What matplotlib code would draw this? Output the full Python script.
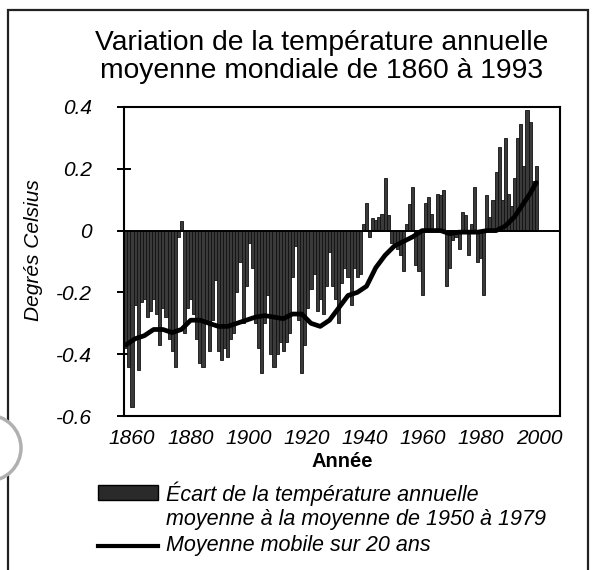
#!/usr/bin/env python3
"""Variation de la température annuelle moyenne mondiale, 1860-1993."""

import numpy as np
import matplotlib

matplotlib.use('Agg')
import matplotlib.pyplot as plt
from matplotlib.patches import Rectangle, Circle
from matplotlib.lines import Line2D

plt.rcParams['font.family'] = ['Liberation Sans', 'DejaVu Sans']

years = list(range(1860, 1994))
anomaly = [
    -0.38, -0.44, -0.57, -0.24, -0.45, -0.23, -0.22, -0.28, -0.26, -0.22,  # 1860s
    -0.27, -0.37, -0.25, -0.28, -0.35, -0.39, -0.44, -0.02, 0.03, -0.33,   # 1870s
    -0.25, -0.22, -0.27, -0.35, -0.43, -0.44, -0.30, -0.39, -0.29, -0.16,  # 1880s
    -0.39, -0.42, -0.38, -0.41, -0.35, -0.33, -0.20, -0.10, -0.30, -0.18,  # 1890s
    -0.04, -0.12, -0.30, -0.38, -0.46, -0.30, -0.21, -0.40, -0.44, -0.40,  # 1900s
    -0.36, -0.39, -0.36, -0.33, -0.15, -0.05, -0.29, -0.46, -0.37, -0.25,  # 1910s
    -0.19, -0.14, -0.26, -0.22, -0.27, -0.18, -0.07, -0.18, -0.22, -0.30,  # 1920s
    -0.17, -0.12, -0.15, -0.24, -0.12, -0.15, -0.14, 0.02, 0.09, -0.02,    # 1930s
    0.04, 0.035, 0.045, 0.055, 0.17, 0.05, -0.04, -0.05, -0.06, -0.08,     # 1940s
    -0.13, 0.02, 0.085, 0.14, -0.11, -0.13, -0.21, 0.09, 0.11, 0.055,      # 1950s
    0.0, 0.12, 0.115, 0.13, -0.18, -0.12, -0.03, -0.02, -0.06, 0.06,       # 1960s
    0.05, -0.08, 0.02, 0.14, -0.10, -0.09, -0.21, 0.115, 0.045, 0.10,      # 1970s
    0.19, 0.27, 0.10, 0.30, 0.12, 0.08, 0.17, 0.30, 0.345, 0.21,           # 1980s
    0.39, 0.35, 0.16, 0.21,                                                # 1990-93
]

# 20-year moving average
ma_years = [1860, 1863, 1866, 1869, 1872, 1875, 1878, 1881, 1884, 1887,
            1890, 1893, 1896, 1899, 1902, 1905, 1908, 1911, 1914, 1917,
            1920, 1923, 1926, 1929, 1932, 1935, 1938, 1941, 1944, 1947,
            1950, 1953, 1956, 1959, 1962, 1965, 1968, 1971, 1974, 1977,
            1980, 1983, 1986, 1989, 1991, 1993]
ma_values = [-0.37, -0.35, -0.34, -0.32, -0.32, -0.33, -0.32, -0.29, -0.29, -0.30,
             -0.31, -0.31, -0.30, -0.29, -0.28, -0.275, -0.28, -0.285, -0.27, -0.27,
             -0.30, -0.31, -0.29, -0.25, -0.21, -0.20, -0.18, -0.12, -0.08, -0.05,
             -0.035, -0.02, 0.0, 0.0, 0.0, -0.01, -0.005, -0.005, -0.005, 0.0,
             0.0, 0.015, 0.045, 0.09, 0.12, 0.155]

yticks = [0.4, 0.2, 0, -0.2, -0.4, -0.6]
ytick_labels = ['0.4', '0.2', '0', '-0.2', '-0.4', '-0.6']
xtick_labels = ['1860', '1880', '1900', '1920', '1940', '1960', '1980', '2000']

W, H = 593, 570
fig = plt.figure(figsize=(W / 100, H / 100), dpi=100)
ax = fig.add_axes([124 / W, 1 - 416 / H, 436 / W, 309 / H])

ax.bar(years, anomaly, width=1.0, color='#3a3a3a', edgecolor='#111111',
       linewidth=0.6, zorder=2)
ax.axhline(0, color='black', lw=1.4, zorder=3)
ax.plot(ma_years, ma_values, color='black', lw=3.4, solid_capstyle='round',
        solid_joinstyle='round', zorder=4)

ax.set_xlim(1859.4, 2000.7)
ax.set_ylim(-0.6, 0.4)
ax.set_yticks(yticks, ytick_labels)
# labels sit on an evenly spaced row that runs a bit inside the axis span
ax.set_xticks(np.linspace(1862, 1994, len(xtick_labels)), xtick_labels)
ax.tick_params(axis='x', length=0, pad=9, labelsize=15)
ax.tick_params(axis='y', direction='inout', length=10, width=1.4, pad=18,
               labelsize=15)
for lab in ax.get_xticklabels() + ax.get_yticklabels():
    lab.set_fontstyle('italic')
for s in ax.spines.values():
    s.set_linewidth(1.5)

ax.set_xlabel('Année', fontsize=14.5, fontweight='bold', labelpad=3)
ax.set_ylabel('Degrés Celsius', fontsize=15, fontstyle='italic')
ax.yaxis.set_label_coords(-0.185, 0.537)

fig.text(322 / W, 1 - 57 / H,
         'Variation de la température annuelle\nmoyenne mondiale de 1860 à 1993',
         ha='center', va='center', fontsize=20.3, linespacing=1.1)

# legend, drawn by hand
fig.patches.append(Rectangle((98 / W, 1 - 500 / H), 60 / W, 15 / H,
                             transform=fig.transFigure, fc='#2a2a2a', ec='black'))
fig.text(166 / W, 1 - 494 / H, 'Écart de la température annuelle',
         fontsize=15.5, fontstyle='italic', va='center')
fig.text(166 / W, 1 - 520 / H, 'moyenne à la moyenne de 1950 à 1979',
         fontsize=15.5, fontstyle='italic', va='center')
fig.lines.append(Line2D([98 / W, 158 / W], [1 - 546 / H, 1 - 546 / H],
                        transform=fig.transFigure, color='black', lw=3))
fig.text(166 / W, 1 - 546 / H, 'Moyenne mobile sur 20 ans',
         fontsize=15.5, fontstyle='italic', va='center')

# page border and punch-hole
fig.patches.append(Rectangle((8 / W, -0.05), 580 / W, 1.05 - 10 / H,
                             transform=fig.transFigure, fill=False,
                             ec='#222222', lw=1.6))
fig.patches.append(Circle((-12, H - 448), 33, transform=None, fc='white',
                          ec='#b0b0b0', lw=2.5))

fig.savefig('out.png', dpi=100)
